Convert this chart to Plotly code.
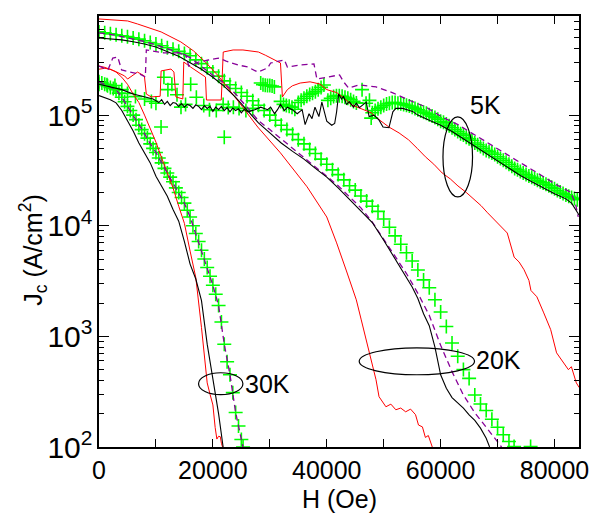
import plotly.graph_objects as go

# ---------------- data (H in Oe, Jc in A/cm^2) ----------------
# 5 K
h_g5 = [0, 1400, 2800, 4000, 5000, 6400, 8000, 9200, 10000, 10900, 11400, 12100, 12800, 13700,
        14400, 15200, 16100, 17100, 18400, 19400, 20600, 21800, 22000, 22700, 23600, 24600,
        25800, 27000, 28400, 28800, 29200, 29600, 30000, 30400, 30800, 31900, 32400, 32900,
        33400, 33900, 34400, 35000, 35500, 36000, 36500, 37000, 37500, 38000, 38500, 39000,
        39500, 40200, 40700, 41200, 41700, 42200, 42700, 43200, 43700, 44200, 44700, 45200,
        46200, 46900, 47500, 47800, 48000, 48500, 49000, 49500, 50000, 50500, 51000, 51500,
        52000, 52500, 53000, 53500, 54000, 54500, 55000, 55500, 56000, 56500, 57000, 57500,
        58000, 58500, 59000, 59500, 60000, 60500, 61000, 61500, 62000, 62500, 63000, 63500,
        64000, 64500, 65000, 65500, 66000, 66500, 67000, 67500, 68000, 68500, 69000, 69500,
        70000, 70500, 71000, 71500, 72000, 72500, 73000, 73500, 74000, 74500, 75000, 75500,
        76000, 76500, 77000, 77500, 78000, 78500, 79000, 79500, 80000, 80500, 81000, 81500,
        82000, 82500, 83000, 83500, 84000]
jc_g5 = [1.9e5, 1.88e5, 1.85e5, 1.7e5, 1.57e5, 1.47e5, 1.4e5, 1.33e5, 1.28e5, 7.8e4, 2.2e5, 1.7e5,
         1.9e5, 1.53e5, 1.18e5, 1.25e5, 1.9e5, 1.45e5, 1.22e5, 1.12e5, 1.1e5, 1.25e5, 6.3e4,
         1.17e5, 1.18e5, 1.15e5, 1.1e5, 1.15e5, 1.95e5, 1.88e5, 1.86e5, 1.85e5, 1.85e5, 1.83e5,
         1.8e5, 1.33e5, 1.25e5, 1.22e5, 1.2e5, 1.18e5, 1.13e5, 1.3e5, 1.36e5, 1.42e5, 1.48e5,
         1.54e5, 1.58e5, 1.63e5, 1.7e5, 1.78e5, 1.87e5, 1.36e5, 1.42e5, 1.47e5, 1.5e5, 1.5e5,
         1.48e5, 1.45e5, 1.42e5, 1.38e5, 1.33e5, 1.29e5, 1.7e5, 1.28e5, 1.36e5, 9.4e4, 1.05e5,
         1.1e5, 1.14e5, 1.18e5, 1.22e5, 1.26e5, 1.28e5, 1.3e5, 1.3e5, 1.28e5, 1.27e5, 1.25e5,
         1.23e5, 1.21e5, 1.18e5, 1.15e5, 1.12e5, 1.09e5, 1.06e5, 1.04e5, 1.01e5, 9.8e4, 9.5e4,
         9.2e4, 8.8e4, 8.6e4, 8.3e4, 8.0e4, 7.7e4, 7.4e4, 7.1e4, 6.8e4, 6.6e4, 6.3e4, 6.1e4,
         5.9e4, 5.6e4, 5.4e4, 5.2e4, 5.0e4, 4.8e4, 4.7e4, 4.55e4, 4.4e4, 4.2e4, 4.05e4, 3.9e4,
         3.75e4, 3.6e4, 3.45e4, 3.3e4, 3.2e4, 3.1e4, 3.0e4, 2.9e4, 2.82e4, 2.74e4, 2.66e4,
         2.58e4, 2.5e4, 2.44e4, 2.37e4, 2.3e4, 2.23e4, 2.16e4, 2.08e4, 2.02e4, 1.96e4, 1.9e4,
         1.85e4, 1.8e4, 1.76e4, 1.72e4]

h_b5 = [0, 2000, 4000, 6000, 8000, 9500, 10500, 11000, 11500, 12000, 12500, 13000, 13500, 14000,
        14500, 15000, 15500, 16000, 16500, 17000, 17500, 18000, 18500, 19000, 19500, 20000,
        20500, 21000, 21500, 22000, 22500, 23000, 23500, 24000, 24500, 25000, 25500, 26150,
        27360, 28400, 29620, 30140, 30830, 31350, 31870, 32560, 33080, 33950, 34810, 35680,
        36200, 36890, 37410, 37930, 38620, 39140, 39660, 40000, 40870, 41390, 41730, 42080,
        42600, 42950, 43460, 43990, 44680, 45200, 45720, 46410, 46930, 47440, 48300, 49190,
        49880, 50920, 51610, 52130, 53340, 55070, 56000, 58000, 60000, 62000, 64000, 66000,
        68000, 70000, 72000, 74000, 76000, 78000, 80000, 82000, 83000, 83700, 84300]
jc_b5 = [1.9e5, 1.8e5, 1.7e5, 1.55e5, 1.45e5, 1.4e5, 1.3e5, 1.38e5, 1.25e5, 1.33e5, 1.22e5, 1.3e5,
         1.28e5, 1.2e5, 1.27e5, 1.18e5, 1.25e5, 1.22e5, 1.15e5, 1.24e5, 1.2e5, 1.12e5, 1.22e5,
         1.15e5, 1.2e5, 1.08e5, 1.18e5, 1.12e5, 1.2e5, 1.1e5, 1.17e5, 1.07e5, 1.16e5, 1.1e5,
         1.14e5, 1.05e5, 1.13e5, 1.07e5, 1.12e5, 1.18e5, 1.12e5, 1.18e5, 1.03e5, 1.12e5, 1.25e5,
         1.1e5, 1.18e5, 1.12e5, 1.03e5, 1.12e5, 8.2e4, 1.03e5, 9.3e4, 1.18e5, 9.7e4, 1.31e5,
         1.03e5, 8.8e4, 8.1e4, 8.4e4, 1.07e5, 1.55e5, 1.4e5, 1.48e5, 1.25e5, 1.32e5, 1.18e5,
         1.28e5, 1.17e5, 1.25e5, 1.31e5, 9.7e4, 1.0e5, 9.0e4, 7.8e4, 7.7e4, 1.07e5, 1.15e5,
         1.15e5, 1.08e5, 1.0e5, 9.0e4, 8.1e4, 7.1e4, 6.1e4, 5.2e4, 4.5e4, 3.85e4, 3.3e4, 2.85e4,
         2.5e4, 2.2e4, 1.95e4, 1.75e4, 1.6e4, 1.4e4, 1.25e4]

h_p5 = [0, 1560, 2420, 3290, 3980, 5370, 7100, 8140, 8310, 9700, 11430, 14030, 15240, 15760,
        17490, 19220, 20960, 22340, 24420, 26150, 27880, 29620, 30140, 32560, 33080, 35330,
        37750, 38270, 40000, 42250, 42950, 43810, 45720, 48660, 51610, 54380, 57320, 60260,
        63040, 65990, 68930, 71700, 74640, 77590, 80360, 82780, 83650, 84170]
jc_p5 = [2.78e5, 2.56e5, 3.28e5, 3.35e5, 2.56e5, 2.45e5, 2.36e5, 2.21e5, 3.88e5, 3.8e5, 3.65e5,
         3.65e5, 3.5e5, 2.78e5, 3.02e5, 3.15e5, 3.28e5, 3.08e5, 2.84e5, 2.72e5, 2.45e5, 2.67e5,
         2.96e5, 3.15e5, 2.72e5, 2.84e5, 2.9e5, 2.12e5, 2.21e5, 2.31e5, 2.0e5, 1.76e5, 1.88e5,
         1.8e5, 1.59e5, 1.37e5, 1.19e5, 9.6e4, 8.2e4, 6.6e4, 5.4e4, 4.37e4, 3.55e4, 2.88e4,
         2.34e4, 2.02e4, 1.61e4, 1.2e4]

h_r5 = [0, 1040, 2770, 4500, 5020, 5720, 6750, 7970, 8310, 9180, 10220, 10740, 10910, 12640,
        13160, 13510, 14720, 14890, 16100, 17490, 18700, 18870, 20090, 21470, 21820, 23550,
        25280, 28000, 29270, 30830, 31870, 32210, 33080, 33950, 35330, 37060, 38790, 40000,
        41730, 42950, 44340, 45730, 47800, 49190, 50920, 52700, 54380, 55900, 57330, 58800,
        60270, 61700, 63040, 64500, 65990, 67100, 68240, 69970, 71700, 72910, 73780, 74650,
        75510, 75860, 76900, 78110, 79330, 80360, 81570, 82440, 82960, 83830, 84350]
jc_r5 = [2.78e5, 2.7e5, 2.5e5, 2.26e5, 2.12e5, 2.26e5, 2.45e5, 2.26e5, 1.55e5, 1.46e5, 1.46e5,
         1.48e5, 2.51e5, 2.61e5, 2.45e5, 1.46e5, 1.4e5, 3.02e5, 2.72e5, 2.45e5, 2.21e5, 1.37e5,
         1.37e5, 1.37e5, 3.72e5, 3.88e5, 3.88e5, 3.72e5, 3.47e5, 3.15e5, 2.96e5, 1.46e5, 1.7e5,
         1.84e5, 1.95e5, 2.0e5, 1.91e5, 1.7e5, 1.6e5, 1.44e5, 1.24e5, 1.16e5, 1.05e5, 9.1e4,
         7.8e4, 6.9e4, 5.97e4, 5.0e4, 4.2e4, 3.6e4, 3.0e4, 2.65e4, 2.29e4, 2.0e4, 1.71e4, 1.52e4,
         1.31e4, 1.06e4, 8.6e3, 5.2e3, 4.7e3, 4.0e3, 3.2e3, 2.6e3, 2.28e3, 1.63e3, 1.15e3, 710,
         578, 500, 532, 380, 344]

# 20 K
h_g20 = [0, 1000, 2000, 3000, 4000, 5000, 6000, 7000, 8000, 9000, 10000, 11000, 12000, 13000,
         14000, 15000, 16000, 17000, 18000, 19000, 20000, 21000, 22000, 23000, 24000, 25000,
         26000, 27000, 28000, 29000, 30000, 31000, 32000, 33000, 34000, 35000, 36000, 37000,
         38000, 39000, 40000, 41000, 42000, 43000, 44000, 45000, 46000, 47000, 48000, 49000,
         50000, 51000, 52000, 53000, 54000, 55000, 56000, 57000, 58000, 59000, 60000, 61000,
         62000, 63000, 64000, 65000, 66000, 67000, 68000, 69000, 70000, 71000, 72000, 72900,
         75800]
jc_g20 = [5.65e5, 5.55e5, 5.43e5, 5.32e5, 5.21e5, 5.12e5, 4.99e5, 4.86e5, 4.7e5, 4.54e5, 4.39e5,
          4.24e5, 4.07e5, 3.93e5, 3.77e5, 3.6e5, 3.44e5, 3.16e5, 2.92e5, 2.68e5, 2.45e5, 2.25e5,
          2.04e5, 1.88e5, 1.74e5, 1.6e5, 1.48e5, 1.35e5, 1.23e5, 1.1e5, 1.0e5, 9.0e4, 8.1e4,
          7.4e4, 6.7e4, 6.0e4, 5.5e4, 4.9e4, 4.5e4, 4.0e4, 3.6e4, 3.2e4, 2.9e4, 2.6e4, 2.3e4,
          2.1e4, 1.86e4, 1.67e4, 1.5e4, 1.35e4, 1.15e4, 9.7e3, 8.1e3, 6.8e3, 5.7e3, 4.8e3,
          3.98e3, 3.24e3, 2.75e3, 2.14e3, 1.66e3, 1.23e3, 871, 661, 501, 417, 295, 245, 214, 178,
          151, 129, 112, 101, 101]

h_p20 = [0, 2000, 4000, 6000, 8000, 10000, 12000, 14000, 16000, 18000, 20000, 22000, 24000,
         26000, 28000, 30000, 32000, 34000, 36000, 38000, 40000, 42000, 44000, 46000, 48000,
         50000, 52000, 54000, 56000, 58000, 60000, 62000, 64000, 66000, 68000, 70000, 70700]
jc_p20 = [5.53e5, 5.37e5, 5.13e5, 4.9e5, 4.62e5, 4.32e5, 3.98e5, 3.67e5, 3.31e5, 2.75e5, 2.29e5,
          1.95e5, 1.55e5, 1.18e5, 8.9e4, 7.4e4, 6.1e4, 5.0e4, 4.2e4, 3.4e4, 2.8e4, 2.3e4, 1.84e4,
          1.45e4, 1.08e4, 7.6e3, 5.3e3, 3.7e3, 2.45e3, 1.55e3, 830, 480, 295, 204, 151, 112, 100]

h_b20 = [0, 2000, 4000, 6000, 8000, 10000, 12000, 14000, 16000, 18000, 20000, 22000, 24000,
         26000, 28000, 30000, 32000, 34000, 36000, 38000, 40000, 42000, 44000, 46000, 48000,
         50000, 52000, 54000, 55000, 56000, 57000, 58000, 59000, 60000, 61000, 62000, 63000,
         64000, 65000, 66000, 67000, 68000, 68600]
jc_b20 = [4.98e5, 4.9e5, 4.79e5, 4.6e5, 4.4e5, 4.13e5, 3.75e5, 3.4e5, 2.98e5, 2.6e5, 2.2e5,
          1.82e5, 1.45e5, 1.1e5, 8.5e4, 6.9e4, 5.6e4, 4.7e4, 4.0e4, 3.3e4, 2.75e4, 2.2e4, 1.74e4,
          1.38e4, 1.07e4, 7.4e3, 5.0e3, 3.4e3, 2.8e3, 2.2e3, 1.6e3, 1.25e3, 800, 450, 340, 280,
          250, 225, 195, 174, 148, 120, 100]

h_r20 = [0, 2500, 5020, 6750, 10910, 14370, 16620, 18870, 20960, 24420, 27880, 31860, 36540,
         40000, 41730, 43460, 45190, 46060, 47440, 48650, 49180, 49870, 50390, 51260, 52130,
         52990, 53860, 54720, 55590, 56110, 56800, 57320, 57840, 58530]
jc_r20 = [7.4e5, 7.3e5, 7.1e5, 6.67e5, 5.65e5, 4.59e5, 3.8e5, 2.95e5, 2.26e5, 1.34e5, 7.8e4,
          4.56e4, 2.25e4, 1.2e4, 7.0e3, 3.9e3, 2.14e3, 1.41e3, 711, 406, 285, 251, 231, 244, 217,
          225, 208, 220, 196, 158, 152, 122, 127, 100]

# 30 K
h_g30 = [0, 500, 1000, 1500, 2000, 2500, 3000, 3500, 4000, 4500, 5000, 5500, 6000, 6500, 7000,
         7500, 8000, 8500, 9000, 9500, 10000, 10500, 11000, 11500, 12000, 12500, 13000, 13500,
         14000, 14500, 15000, 15500, 16000, 16500, 17000, 17500, 18000, 18500, 19000, 19500,
         20000, 20500, 21000, 21500, 22000, 22500, 23000, 23500, 24000, 24500, 25000, 25300]
jc_g30 = [2.0e5, 1.95e5, 1.9e5, 1.84e5, 1.78e5, 1.74e5, 1.7e5, 1.58e5, 1.45e5, 1.32e5, 1.2e5,
          1.1e5, 1.0e5, 9.1e4, 8.1e4, 7.4e4, 6.8e4, 6.2e4, 5.5e4, 5.0e4, 4.6e4, 4.1e4, 3.7e4,
          3.3e4, 3.0e4, 2.75e4, 2.5e4, 2.2e4, 2.0e4, 1.8e4, 1.6e4, 1.38e4, 1.2e4, 1.0e4, 8.5e3,
          7.2e3, 6.0e3, 5.0e3, 4.2e3, 3.5e3, 2.9e3, 2.4e3, 1.9e3, 1.35e3, 850, 590, 450, 310, 205,
          155, 117, 100]

h_p30 = [0, 1000, 2000, 3000, 4000, 5000, 6000, 7000, 8000, 9000, 10000, 11000, 12000, 13000,
         14000, 15000, 16000, 17000, 18000, 19000, 20000, 21000, 22000, 23000, 24000, 25000, 25300]
jc_p30 = [2.0e5, 1.9e5, 1.78e5, 1.7e5, 1.45e5, 1.2e5, 1.0e5, 8.1e4, 6.8e4, 5.5e4, 4.6e4, 3.7e4,
          3.0e4, 2.5e4, 2.0e4, 1.6e4, 1.2e4, 8.5e3, 6.0e3, 4.2e3, 2.9e3, 1.9e3, 850, 450, 205, 117,
          100]

h_b30 = [0, 1000, 2000, 3000, 4000, 5000, 6000, 7000, 8000, 9000, 10000, 11000, 12000, 13000,
         14000, 15000, 16000, 17000, 18000, 19000, 20000, 21000, 21800]
jc_b30 = [1.5e5, 1.45e5, 1.38e5, 1.29e5, 1.1e5, 8.9e4, 7.2e4, 5.6e4, 4.5e4, 3.7e4, 2.8e4, 2.3e4,
          1.85e4, 1.4e4, 1.1e4, 7.2e3, 4.5e3, 3.3e3, 2.1e3, 850, 430, 200, 100]

h_r30 = [0, 1000, 2000, 3000, 4000, 5000, 6000, 7000, 8000, 9000, 10000, 11000, 12000, 13000,
         14000, 15000, 16000, 17000, 18000, 18500, 19000, 19500, 20000, 20400, 20700, 21000,
         21300, 21500, 21700]
jc_r30 = [2.6e5, 2.65e5, 2.6e5, 2.45e5, 2.2e5, 1.9e5, 1.55e5, 1.3e5, 1.0e5, 7.6e4, 5.7e4, 4.1e4,
          3.0e4, 2.2e4, 1.5e4, 1.05e4, 5.9e3, 3.4e3, 1.2e3, 700, 380, 300, 240, 150, 118, 125,
          124, 108, 100]

temp_labels = ["5K", "20K", "30K"]

# ---------------- styles ----------------
GREEN = "#00ff00"
RED = "#ff0000"
BLACK = "#000000"
PURPLE = "#880099"
FONT = "Liberation Sans, Arial, Helvetica, sans-serif"

fig = go.Figure()


def markers(h, jc):
    fig.add_trace(go.Scatter(x=h, y=jc, mode="markers",
                             marker=dict(symbol="cross-thin", size=10, color=GREEN,
                                         line=dict(color=GREEN, width=1.6)),
                             hoverinfo="skip"))


def line(h, jc, color, width=1.1, dash="solid"):
    fig.add_trace(go.Scatter(x=h, y=jc, mode="lines",
                             line=dict(color=color, width=width, dash=dash),
                             hoverinfo="skip"))


for h, jc in [(h_g5, jc_g5), (h_g20, jc_g20), (h_g30, jc_g30)]:
    markers(h, jc)
for h, jc in [(h_r5, jc_r5), (h_r20, jc_r20), (h_r30, jc_r30)]:
    line(h, jc, RED, 1.0)
for h, jc in [(h_p5, jc_p5), (h_p20, jc_p20), (h_p30, jc_p30)]:
    line(h, jc, PURPLE, 1.3, "6px,4px")
for h, jc in [(h_b5, jc_b5), (h_b20, jc_b20), (h_b30, jc_b30)]:
    line(h, jc, BLACK, 1.1)

# ellipses and labels (paper coordinates)
ellipses = [(0.7166, 0.5803, 0.7782, 0.7658),
            (0.5421, 0.1676, 0.7823, 0.2302),
            (0.2074, 0.1213, 0.2998, 0.1723)]
for x0, y0, x1, y1 in ellipses:
    fig.add_shape(type="circle", xref="paper", yref="paper", x0=x0, y0=y0, x1=x1, y1=y1,
                  line=dict(color="black", width=1.2))

label_pos = [(0.805, 0.7937), (0.8327, 0.2024), (0.3511, 0.1468)]
for txt, (lx, ly) in zip(temp_labels, label_pos):
    fig.add_annotation(text=txt, xref="paper", yref="paper", x=lx, y=ly, showarrow=False,
                       xanchor="center", yanchor="middle",
                       font=dict(family=FONT, size=25, color="black"))

fig.add_annotation(text="J<sub>c</sub> (A/cm<sup>2</sup>)", xref="paper", yref="paper",
                   x=-0.1376, y=0.4575, textangle=-90, showarrow=False,
                   xanchor="center", yanchor="middle",
                   font=dict(family=FONT, size=25, color="black"))
fig.add_annotation(text="H (Oe)", xref="paper", yref="paper", x=0.501, y=-0.1199,
                   showarrow=False, xanchor="center", yanchor="middle",
                   font=dict(family=FONT, size=25, color="black"))

fig.update_layout(
    width=601, height=513,
    margin=dict(l=99, r=15, t=16, b=66),
    paper_bgcolor="white", plot_bgcolor="white",
    showlegend=False,
    font=dict(family=FONT, color="black"),
    xaxis=dict(range=[0, 84300], tickmode="linear", tick0=0, dtick=20000, tickformat="d",
               ticks="inside", ticklen=8, tickwidth=1.3, tickcolor="black",
               showline=True, linewidth=1.5, linecolor="black", mirror="allticks",
               showgrid=False, zeroline=False,
               minor=dict(tickmode="linear", tick0=0, dtick=10000, ticks="inside",
                          ticklen=8, tickwidth=1.3, tickcolor="black", showgrid=False),
               tickfont=dict(family=FONT, size=25, color="black")),
    yaxis=dict(type="log", range=[2, 5.896], tickmode="linear", tick0=0, dtick=1,
               exponentformat="power",
               ticks="inside", ticklen=10, tickwidth=1.3, tickcolor="black",
               showline=True, linewidth=1.5, linecolor="black", mirror="allticks",
               showgrid=False, zeroline=False,
               minor=dict(dtick="D1", ticks="inside", ticklen=5, tickwidth=1.1,
                          tickcolor="black", showgrid=False),
               tickfont=dict(family=FONT, size=24, color="black")),
)

fig.write_html("out.html", config={"displayModeBar": False},
               post_script="document.body.style.margin='0';")
